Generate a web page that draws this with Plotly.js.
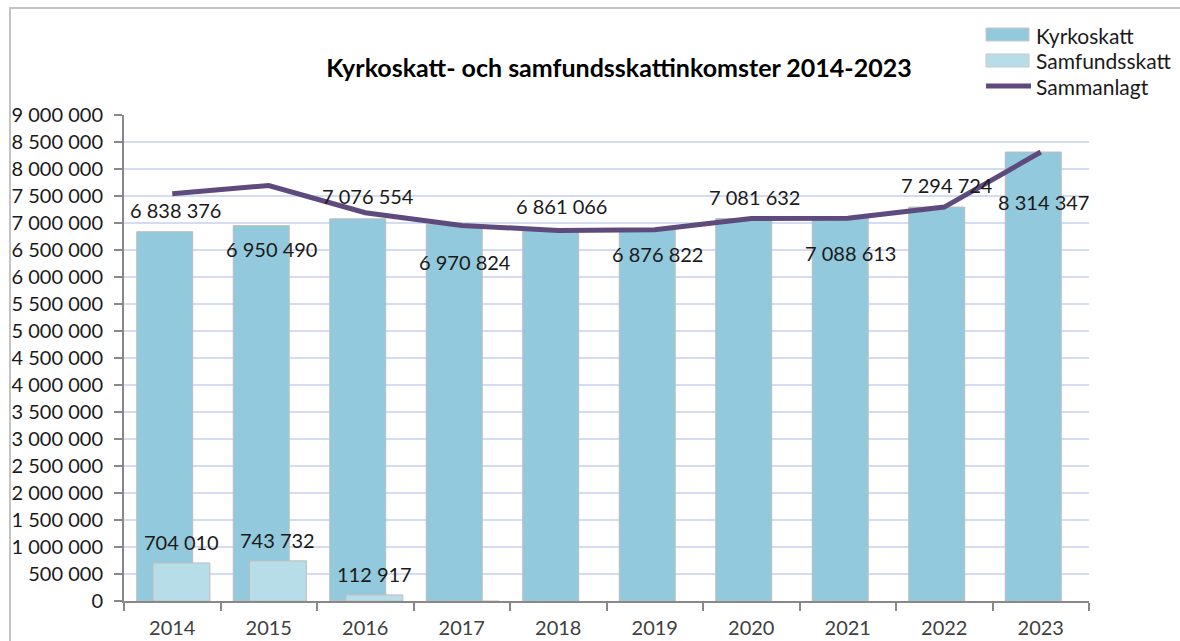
<!DOCTYPE html>
<html>
<head>
<meta charset="utf-8">
<script src="https://cdn.plot.ly/plotly-3.0.1.min.js"></script>
<style>
  html, body { margin: 0; padding: 0; background: #fff; }
  #wrap { position: relative; width: 1180px; height: 641px; overflow: hidden; }
  #chart { width: 1180px; height: 641px; }
  #frame { position: absolute; left: 9px; top: 7px; width: 1200px; height: 700px;
           border-left: 2px solid #c4c4c4; border-top: 2px solid #c4c4c4; pointer-events: none; }
</style>
</head>
<body>
<div id="wrap">
  <div id="chart"></div>
  <div id="frame"></div>
</div>
<script>
// ---- data ----
const years = ['2014', '2015', '2016', '2017', '2018', '2019', '2020', '2021', '2022', '2023'];
const kyrkoskatt = [6838376, 6950490, 7076554, 6970824, 6861066, 6876822, 7081632, 7088613, 7294724, 8314347];
const samfundsskatt = [704010, 743732, 112917, -15000, null, null, null, null, null, null];
const sammanlagt = [7542386, 7694222, 7189471, 6955824, 6861066, 6876822, 7081632, 7088613, 7294724, 8314347];
const seriesNames = ['Kyrkoskatt', 'Samfundsskatt', 'Sammanlagt'];
const titleText = 'Kyrkoskatt- och samfundsskattinkomster 2014-2023';

// ---- layout helpers (pixel styling) ----
const FONT = 'Lato, "Open Sans", sans-serif';
const colKyrko = '#92c9dc';
const colSamf = '#b7dde8';
const colLine = '#5f4a7d';
const kyrkoLabelDy = [22, -23, 23, -37, 25, -24, 22, -35, 22, -50];

const L = 124, R = 91, T = 115, B = 40, W = 1180, H = 641;
const pw = W - L - R, ph = H - T - B;
const px = x => (x - L) / pw;
const py = y => (H - B - y) / ph;

const fmt = v => Math.round(v).toString().replace(/\B(?=(\d{3})+(?!\d))/g, ' ');

const traces = [
  {
    type: 'bar', name: seriesNames[0], x: years, y: kyrkoskatt,
    width: 0.58, offset: -0.368,
    marker: { color: colKyrko, line: { color: '#bdbdbd', width: 1 } },
    showlegend: false, hoverinfo: 'x+y'
  },
  {
    type: 'bar', name: seriesNames[1], x: years, y: samfundsskatt,
    width: 0.59, offset: -0.2,
    marker: { color: colSamf, line: { color: '#bdbdbd', width: 1 } },
    showlegend: false, hoverinfo: 'x+y'
  },
  {
    type: 'scatter', mode: 'lines', name: seriesNames[2], x: years, y: sammanlagt,
    line: { color: colLine, width: 5 },
    showlegend: false, hoverinfo: 'x+y'
  }
];

const annotations = [];
years.forEach((yr, i) => {
  annotations.push({
    x: i, y: kyrkoskatt[i], xref: 'x', yref: 'y', text: fmt(kyrkoskatt[i]),
    showarrow: false, xshift: 3, yshift: kyrkoLabelDy[i],
    xanchor: 'center', yanchor: 'middle',
    font: { family: FONT, size: 20, color: '#1a1a1a' }
  });
  if (samfundsskatt[i] !== null && samfundsskatt[i] > 0) {
    annotations.push({
      x: i, y: samfundsskatt[i], xref: 'x', yref: 'y', text: fmt(samfundsskatt[i]),
      showarrow: false, xshift: 9, yshift: 21,
      xanchor: 'center', yanchor: 'middle',
      font: { family: FONT, size: 20, color: '#1a1a1a' }
    });
  }
});

// manual legend
const shapes = [
  { type: 'rect', xref: 'paper', yref: 'paper', x0: px(986), x1: px(1029), y0: py(41), y1: py(28),
    fillcolor: colKyrko, line: { color: '#c8c8c8', width: 1 } },
  { type: 'rect', xref: 'paper', yref: 'paper', x0: px(986), x1: px(1029), y0: py(67), y1: py(54),
    fillcolor: colSamf, line: { color: '#c8c8c8', width: 1 } },
  { type: 'line', xref: 'paper', yref: 'paper', x0: px(986), x1: px(1031), y0: py(86), y1: py(86),
    line: { color: colLine, width: 5 } }
];
[[35, 0], [61, 1], [86, 2]].forEach(([yy, k]) => {
  annotations.push({
    xref: 'paper', yref: 'paper', x: px(1034), y: py(yy), xanchor: 'left', yanchor: 'middle',
    text: seriesNames[k], showarrow: false,
    font: { family: FONT, size: 21, color: '#1a1a1a' }
  });
});

const layout = {
  width: W, height: H,
  margin: { l: L, r: R, t: T, b: B },
  paper_bgcolor: 'rgba(0,0,0,0)', plot_bgcolor: '#ffffff',
  separators: '. ',
  font: { family: FONT, size: 20, color: '#1a1a1a' },
  title: {
    text: '<b>' + titleText + '</b>',
    font: { family: FONT, size: 25, color: '#000' },
    xref: 'paper', x: px(619), xanchor: 'center',
    yref: 'container', y: 1 - 68 / H, yanchor: 'middle'
  },
  barmode: 'overlay',
  showlegend: false,
  xaxis: {
    type: 'category', range: [-0.5, 9.5],
    showline: true, linecolor: '#888', linewidth: 2,
    ticks: 'outside', tickson: 'boundaries', ticklen: 8, tickcolor: '#888', tickwidth: 2,
    showgrid: false, zeroline: false,
    tickfont: { family: FONT, size: 20, color: '#404040' },
    ticklabelstandoff: 8
  },
  yaxis: {
    range: [0, 9000000], dtick: 500000, tick0: 0, tickformat: ',d',
    showline: true, linecolor: '#888', linewidth: 2,
    ticks: 'outside', ticklen: 8, tickcolor: '#888', tickwidth: 2,
    showgrid: true, gridcolor: '#d3dcf2', gridwidth: 1.5, zeroline: false,
    tickfont: { family: FONT, size: 20, color: '#1a1a1a' },
    ticklabelstandoff: 7
  },
  shapes: shapes,
  annotations: annotations
};

Plotly.newPlot('chart', traces, layout, { displayModeBar: false, staticPlot: true });
</script>
</body>
</html>
